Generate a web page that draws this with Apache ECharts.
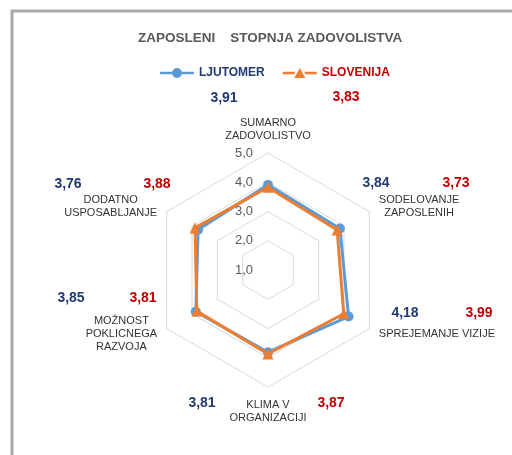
<!DOCTYPE html>
<html>
<head>
<meta charset="utf-8">
<script src="https://cdn.jsdelivr.net/npm/echarts@6/dist/echarts.min.js"></script>
<style>
  html, body { margin: 0; padding: 0; background: #fff; }
  #chart { width: 512px; height: 455px; }
</style>
</head>
<body>
<div id="chart"></div>
<script>
// podatki (v smeri urinega kazalca, kot v Excelu)
var indicators = [
  ['SUMARNO', 'ZADOVOLISTVO'],
  ['SODELOVANJE', 'ZAPOSLENIH'],
  ['SPREJEMANJE VIZIJE'],
  ['KLIMA V', 'ORGANIZACIJI'],
  ['MOŽNOST', 'POKLICNEGA', 'RAZVOJA'],
  ['DODATNO', 'USPOSABLJANJE']
];
var seriesNames = ['LJUTOMER', 'SLOVENIJA'];
var ljutomer = [3.91, 3.84, 4.18, 3.81, 3.85, 3.76];
var slovenija = [3.83, 3.73, 3.99, 3.87, 3.81, 3.88];
var scaleMin = 1, scaleMax = 5;

// kje stojijo oznake vrednosti (ročno premaknjene kot v Excelu)
var labelPosLj = [[224, 98], [376, 183], [405, 313], [202, 403], [71, 298], [68, 184]];
var labelPosSlo = [[346, 97], [456, 183], [479, 313], [331, 403], [143, 298], [157, 184]];

var FONT = '"Liberation Sans", Arial, sans-serif';
var BLUE = '#5B9BD5', ORANGE = '#ED7D31';
var NAVY = '#203A72', RED = '#C00000';

// echarts riše radar v nasprotni smeri, zato obrnemo vrstni red
var order = [0, 5, 4, 3, 2, 1];
function reorder(arr) { return order.map(function (i) { return arr[i]; }); }

function fmt(v) { return v.toFixed(2).replace('.', ','); }

var myChart = echarts.init(document.getElementById('chart'));

var graphics = [
  // okvir grafikona
  {
    type: 'polyline',
    shape: { points: [[12, 455], [12, 11], [512, 11]] },
    style: { stroke: '#A9A9A9', lineWidth: 3, fill: null },
    silent: true
  }
];
function addLabels(values, pos, color) {
  values.forEach(function (v, i) {
    graphics.push({
      type: 'text',
      x: pos[i][0], y: pos[i][1],
      style: {
        text: fmt(v), fill: color, font: 'bold 14px ' + FONT,
        textAlign: 'center', textVerticalAlign: 'middle'
      },
      silent: true
    });
  });
}
addLabels(ljutomer, labelPosLj, NAVY);
addLabels(slovenija, labelPosSlo, RED);

var option = {
  animation: false,
  backgroundColor: '#fff',
  title: {
    text: 'ZAPOSLENI    STOPNJA ZADOVOLISTVA',
    left: 133, top: 26,
    textStyle: { fontFamily: FONT, fontSize: 13.5, fontWeight: 'bold', color: '#595959' }
  },
  legend: {
    left: 155, top: 62,
    itemWidth: 34, itemHeight: 10, itemGap: 18,
    data: [
      { name: seriesNames[0], icon: 'path://M0,3.7H12V6.3H0Z M22,3.7H34V6.3H22Z M22,5A5,5,0,1,1,12,5A5,5,0,1,1,22,5Z',
        textStyle: { color: NAVY } },
      { name: seriesNames[1], icon: 'path://M0,3.7H12V6.3H0Z M22,3.7H34V6.3H22Z M17,0L22.5,10H11.5Z',
        textStyle: { color: RED } }
    ],
    textStyle: { fontFamily: FONT, fontSize: 12, fontWeight: 'bold' }
  },
  radar: {
    center: [268, 270],
    radius: 117,
    startAngle: 90,
    splitNumber: 4,
    shape: 'polygon',
    nameGap: 11,
    indicator: reorder(indicators).map(function (n, i) {
      var o = { name: n.join('\n'), min: scaleMin, max: scaleMax };
      if (i === 0) o.axisLabel = { show: true };
      return o;
    }),
    axisName: {
      color: '#333',
      fontFamily: FONT,
      fontSize: 11,
      lineHeight: 13,
      formatter: function (name) {
        return name.split('\n').map(function (s) { return '{c|' + s + '}'; }).join('\n');
      },
      rich: { c: { align: 'center', color: '#333', fontFamily: FONT, fontSize: 11, lineHeight: 13 } }
    },
    axisLine: { show: false },
    axisTick: { show: false },
    axisLabel: {
      show: false,
      fontFamily: FONT,
      fontSize: 13,
      color: '#595959',
      margin: 15,
      formatter: function (v) { return v.toFixed(1).replace('.', ','); }
    },
    splitLine: { lineStyle: { color: '#D9D9D9', width: 1 } },
    splitArea: { show: false }
  },
  series: [
    {
      type: 'radar',
      name: seriesNames[0],
      symbol: 'circle',
      symbolSize: 10,
      z: 2,
      lineStyle: { width: 3, color: BLUE },
      itemStyle: { color: BLUE },
      data: [{ name: seriesNames[0], value: reorder(ljutomer) }]
    },
    {
      type: 'radar',
      name: seriesNames[1],
      symbol: 'triangle',
      symbolSize: 11,
      z: 3,
      lineStyle: { width: 3, color: ORANGE },
      itemStyle: { color: ORANGE },
      data: [{ name: seriesNames[1], value: reorder(slovenija) }]
    }
  ],
  graphic: graphics
};

myChart.setOption(option);
</script>
</body>
</html>
